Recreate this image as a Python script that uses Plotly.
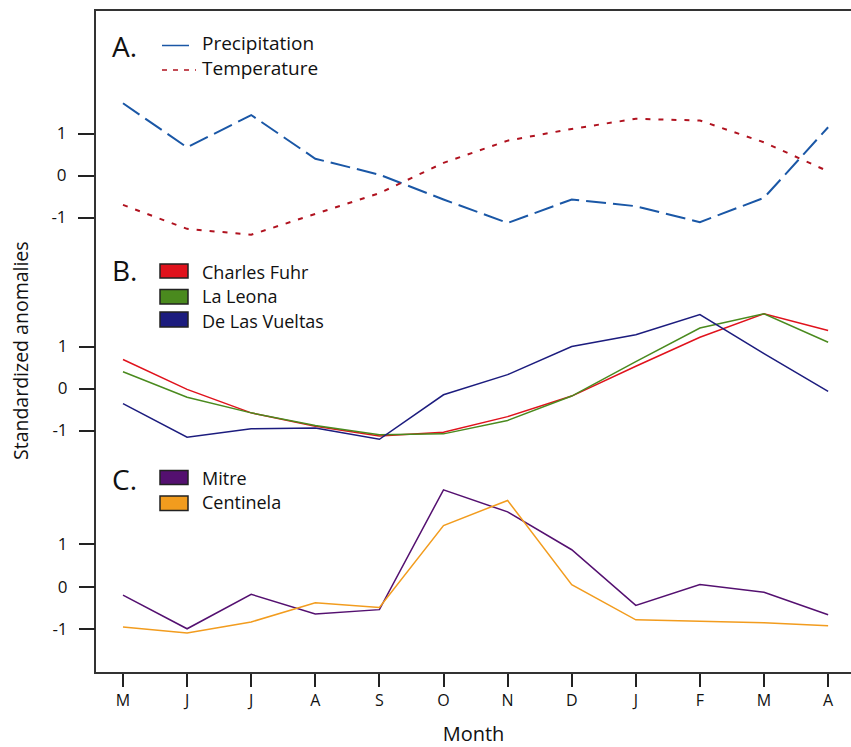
import plotly.graph_objects as go

months = ["M", "J", "J", "A", "S", "O", "N", "D", "J", "F", "M", "A"]
xidx = list(range(len(months)))

# Panel A
precipitation = [1.72, 0.67, 1.44, 0.40, 0.02, -0.57, -1.13, -0.57, -0.73, -1.11, -0.53, 1.15]
temperature = [-0.70, -1.27, -1.41, -0.91, -0.42, 0.30, 0.83, 1.11, 1.35, 1.31, 0.79, 0.10]

# Panel B
charles_fuhr = [0.69, -0.02, -0.58, -0.90, -1.13, -1.04, -0.67, -0.18, 0.53, 1.22, 1.78, 1.38]
la_leona = [0.40, -0.21, -0.58, -0.88, -1.10, -1.08, -0.76, -0.18, 0.64, 1.44, 1.78, 1.10]
de_las_vueltas = [-0.36, -1.16, -0.96, -0.94, -1.21, -0.15, 0.33, 1.00, 1.28, 1.76, 0.83, -0.07]

# Panel C
mitre = [-0.20, -0.99, -0.18, -0.64, -0.54, 2.28, 1.76, 0.87, -0.44, 0.05, -0.13, -0.66]
centinela = [-0.95, -1.09, -0.83, -0.38, -0.49, 1.44, 2.03, 0.05, -0.78, -0.82, -0.85, -0.92]

yticks = [1, 0, -1]
ytick_text = ["1", "0", "-1"]

C_PRE = "#1a57a6"
C_TMP = "#b0121f"
C_CF = "#e0121c"
C_LL = "#4a8a1e"
C_DLV = "#1c1c7e"
C_MIT = "#541070"
C_CEN = "#f29c1e"

W, H = 851, 747
ML, MR, MT, MB = 96, 0, 11, 75
PW, PH = W - ML - MR, H - MT - MB

def px(x):
    return (x - ML) / PW

def py(y):
    return (H - MB - y) / PH

FONT = "Open Sans"

fig = go.Figure()
fig.add_trace(go.Scatter(x=xidx, y=precipitation, mode="lines", yaxis="y",
                         line=dict(color=C_PRE, width=2, dash="20px,7px"), showlegend=False))
fig.add_trace(go.Scatter(x=xidx, y=temperature, mode="lines", yaxis="y",
                         line=dict(color=C_TMP, width=2, dash="5px,8px"), showlegend=False))
fig.add_trace(go.Scatter(x=xidx, y=charles_fuhr, mode="lines", yaxis="y2",
                         line=dict(color=C_CF, width=1.5), showlegend=False))
fig.add_trace(go.Scatter(x=xidx, y=la_leona, mode="lines", yaxis="y2",
                         line=dict(color=C_LL, width=1.5), showlegend=False))
fig.add_trace(go.Scatter(x=xidx, y=de_las_vueltas, mode="lines", yaxis="y2",
                         line=dict(color=C_DLV, width=1.5), showlegend=False))
fig.add_trace(go.Scatter(x=xidx, y=mitre, mode="lines", yaxis="y3",
                         line=dict(color=C_MIT, width=1.5), showlegend=False))
fig.add_trace(go.Scatter(x=xidx, y=centinela, mode="lines", yaxis="y3",
                         line=dict(color=C_CEN, width=1.5), showlegend=False))

ycommon = dict(tickmode="array", tickvals=yticks, ticktext=ytick_text, ticks="outside",
               ticklen=16, tickwidth=1.6, tickcolor="#222", showgrid=False, zeroline=False,
               ticklabelstandoff=8,
               tickfont=dict(family=FONT, size=17, color="#111"), anchor="x", side="left")

fig.update_layout(
    width=W, height=H,
    margin=dict(l=ML, r=MR, t=MT, b=MB, pad=0),
    paper_bgcolor="white", plot_bgcolor="white",
    xaxis=dict(range=[-0.421, 11.357], tickmode="array", tickvals=xidx, ticktext=months,
               ticks="outside", ticklen=13, tickwidth=1.6, tickcolor="#222",
               showline=True, linecolor="#333", linewidth=2, mirror=True,
               showgrid=False, zeroline=False,
               tickfont=dict(family=FONT, size=16, color="#111"),
               title=dict(text="Month", font=dict(family=FONT, size=20, color="#111"), standoff=20)),
    yaxis=dict(range=[-11.82, 3.917], showline=True, linecolor="#333", linewidth=2, **ycommon),
    yaxis2=dict(range=[-6.75, 8.988], overlaying="y", showline=False, **ycommon),
    yaxis3=dict(range=[-2.007, 13.546], overlaying="y", showline=False, **ycommon),
)

shapes = []
annotations = []

def label(text, x, y, size=18):
    annotations.append(dict(text=text, x=px(x), y=py(y), xref="paper", yref="paper",
                            xanchor="left", yanchor="middle", showarrow=False,
                            font=dict(family=FONT, size=size, color="#111")))

def swatch(color, x0, x1, y0, y1):
    shapes.append(dict(type="rect", xref="paper", yref="paper", x0=px(x0), x1=px(x1),
                       y0=py(y1), y1=py(y0), fillcolor=color, line=dict(color="#222", width=1.5)))

def legline(color, x0, x1, y, dash):
    shapes.append(dict(type="line", xref="paper", yref="paper", x0=px(x0), x1=px(x1),
                       y0=py(y), y1=py(y), line=dict(color=color, width=1.5, dash=dash)))

# Y axis title
annotations.append(dict(text="Standardized anomalies", x=px(21), y=py(351), xref="paper", yref="paper",
                        xanchor="center", yanchor="middle", textangle=-90, showarrow=False,
                        font=dict(family=FONT, size=19.5, color="#111")))

# Panel A legend
label("A.", 110, 46, 28)
legline(C_PRE, 162, 189, 45.5, "solid")
legline(C_TMP, 162, 196, 70, "5px,6px")
label("Precipitation", 200, 43, 19)
label("Temperature", 200, 68, 19)

# Panel B legend
label("B.", 110, 270, 28)
swatch(C_CF, 160, 188, 264, 278)
swatch(C_LL, 160, 188, 289.5, 304)
swatch(C_DLV, 160, 188, 312, 327)
label("Charles Fuhr", 200, 271.5)
label("La Leona", 200, 296)
label("De Las Vueltas", 200, 320.5)

# Panel C legend
label("C.", 110, 479, 28)
swatch(C_MIT, 160, 188, 470.5, 484.5)
swatch(C_CEN, 160, 188, 496, 510.5)
label("Mitre", 200, 478)
label("Centinela", 200, 502.5)

fig.update_layout(shapes=shapes, annotations=annotations)

fig.write_html("out.html")
